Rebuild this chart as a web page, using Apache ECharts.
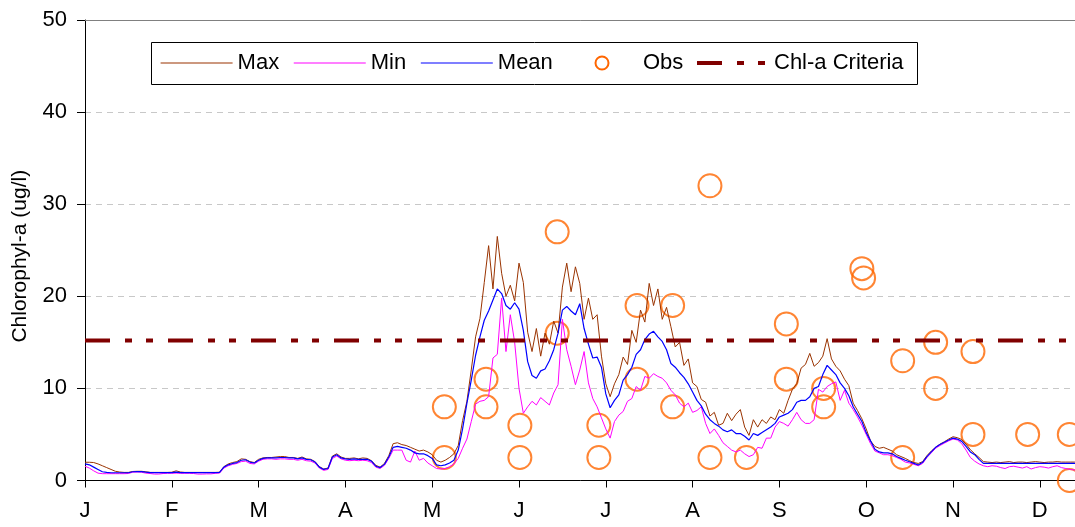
<!DOCTYPE html>
<html>
<head>
<meta charset="utf-8">
<script src="https://cdn.jsdelivr.net/npm/echarts@6/dist/echarts.min.js"></script>
<style>
html,body{margin:0;padding:0;background:#fff;}
#chart{width:1075px;height:527px;}
</style>
</head>
<body>
<div id="chart"></div>
<script>
// Month tick labels (axis ticks evenly spaced, one per month)
const monthLabels = ['J','F','M','A','M','J','J','A','S','O','N','D','J'];
// Time grid: sample k is at month k*0.05 from Jan 1
const timeStepMonths = 0.05;

const maxValues = [
 1.98,1.98,1.95,1.8,1.6,1.4,1.2,1.0,0.92,0.88,
 0.88,0.98,1.0,1.0,0.95,0.88,0.88,0.88,0.88,0.88,
 0.9,1.05,0.92,0.88,0.88,0.88,0.88,0.88,0.88,0.88,
 0.88,0.9,1.5,1.8,1.95,2.05,2.35,2.3,2.05,1.95,
 2.3,2.45,2.5,2.5,2.55,2.6,2.6,2.5,2.5,2.4,
 2.55,2.35,2.3,2.05,1.5,1.25,1.35,2.65,2.9,2.55,
 2.4,2.4,2.45,2.35,2.45,2.4,2.15,1.65,1.45,1.85,
 2.7,4.0,4.1,3.9,3.8,3.6,3.4,3.2,3.3,3.1,
 2.8,2.2,2.0,2.2,2.5,2.9,3.8,6.5,8.6,12.0,
 15.6,17.6,21.5,25.5,20.8,26.5,22.5,20.0,21.2,19.5,
 23.6,21.5,16.1,14.0,16.5,13.5,16.0,14.8,17.3,16.0,
 21.0,23.6,20.5,23.2,21.4,17.5,19.8,17.5,18.0,13.5,
 10.5,9.1,10.5,11.5,13.4,12.6,16.3,15.0,18.5,17.2,
 21.4,19.0,20.8,17.5,18.8,16.7,14.5,15.0,12.5,13.2,
 10.6,10.2,8.8,8.5,7.0,7.4,6.0,6.2,7.3,6.5,
 7.2,7.7,5.8,4.9,6.6,5.8,6.6,6.2,6.9,6.6,
 7.7,7.3,8.7,9.9,10.5,12.2,12.6,13.8,12.4,12.8,
 13.5,15.4,13.2,12.4,11.9,11.0,10.3,8.4,7.6,6.7,
 5.6,4.3,3.7,3.5,3.6,3.4,3.2,2.8,2.6,2.4,
 2.15,1.95,1.85,2.05,2.7,3.2,3.6,3.95,4.2,4.5,
 4.75,4.65,4.45,3.95,3.35,2.9,2.5,2.05,2.0,1.95,
 2.0,1.95,2.0,2.05,1.95,2.0,2.0,1.95,2.0,2.05,
 2.0,1.95,2.0,2.0,2.05,2.0,2.0,2.0,2.0,2.0
];

const minValues = [
 1.55,1.35,1.05,0.8,0.74,0.74,0.74,0.74,0.74,0.74,
 0.76,0.9,0.92,0.9,0.8,0.76,0.7,0.7,0.76,0.78,
 0.78,0.8,0.78,0.78,0.78,0.76,0.7,0.7,0.72,0.72,
 0.78,0.8,1.35,1.6,1.75,1.85,2.05,2.1,1.85,1.8,
 2.1,2.3,2.35,2.35,2.3,2.35,2.35,2.3,2.3,2.2,
 2.3,2.15,2.1,1.9,1.35,1.1,1.2,2.4,2.65,2.35,
 2.2,2.15,2.2,2.15,2.2,2.15,1.95,1.45,1.3,1.65,
 2.4,3.3,3.3,3.3,2.2,2.0,3.2,2.2,2.4,1.9,
 1.6,1.3,1.25,1.3,1.5,1.8,2.4,3.5,4.5,6.4,
 8.3,8.6,8.7,9.1,13.3,13.7,19.8,14.0,18.0,15.0,
 10.0,7.3,8.0,8.6,8.2,9.0,8.6,8.2,9.5,10.4,
 17.5,14.2,12.4,10.4,12.0,14.0,10.6,8.9,8.0,6.8,
 5.6,4.6,6.4,7.1,7.5,8.6,8.9,10.2,9.8,11.3,
 11.1,11.6,11.3,11.1,10.6,9.8,9.3,8.4,8.0,8.4,
 7.4,7.6,8.0,6.2,5.1,5.6,4.9,4.1,3.7,3.3,
 3.1,3.3,2.9,2.6,2.8,3.6,3.5,4.6,4.6,5.8,
 6.4,6.2,5.9,6.6,7.4,6.6,6.2,6.2,6.6,9.9,
 9.6,10.2,10.5,10.7,8.7,9.8,8.4,7.7,6.9,6.0,
 5.0,4.0,3.2,3.0,2.8,2.8,2.7,2.5,2.3,2.0,
 1.9,1.75,1.6,1.85,2.5,3.0,3.5,3.8,4.05,4.3,
 4.5,4.4,4.0,3.3,2.5,2.1,1.8,1.6,1.5,1.6,
 1.55,1.4,1.3,1.5,1.55,1.45,1.35,1.5,1.25,1.4,
 1.5,1.45,1.35,1.5,1.6,1.4,1.3,1.2,1.15,1.15
];

const meanValues = [
 1.8,1.7,1.45,1.2,0.95,0.88,0.84,0.84,0.84,0.84,
 0.84,0.95,0.97,0.97,0.9,0.85,0.85,0.85,0.85,0.85,
 0.85,0.9,0.85,0.85,0.85,0.85,0.85,0.85,0.85,0.85,
 0.85,0.87,1.45,1.7,1.85,1.95,2.2,2.25,2.0,1.9,
 2.2,2.4,2.45,2.45,2.45,2.5,2.5,2.45,2.45,2.35,
 2.45,2.3,2.25,2.0,1.45,1.2,1.3,2.55,2.8,2.45,
 2.35,2.3,2.35,2.3,2.3,2.3,2.1,1.55,1.4,1.75,
 2.55,3.6,3.7,3.6,3.5,3.3,3.0,2.9,2.9,2.7,
 2.4,1.7,1.6,1.7,1.9,2.2,3.3,5.6,8.4,10.9,
 13.6,15.6,17.4,18.4,19.6,20.8,20.3,19.0,18.6,19.3,
 18.6,16.3,12.9,11.4,11.1,11.9,12.1,13.0,14.2,16.0,
 18.5,18.9,18.4,18.0,19.2,16.5,14.8,13.3,13.4,12.3,
 9.4,7.9,8.7,9.3,10.9,11.5,12.3,13.7,14.2,15.3,
 15.9,16.2,15.6,15.1,14.2,12.7,12.3,11.7,11.2,10.5,
 9.6,8.7,8.1,7.2,6.6,6.2,5.9,5.5,5.3,5.5,
 5.1,5.1,4.8,4.4,5.1,4.9,5.2,5.5,5.8,6.2,
 6.9,7.1,7.3,7.7,8.5,8.7,8.7,9.1,10.0,10.2,
 11.5,12.5,12.0,11.5,10.6,10.0,9.2,8.0,7.2,6.4,
 5.2,4.3,3.4,3.1,3.0,3.0,2.9,2.6,2.4,2.2,
 2.04,1.86,1.68,1.97,2.6,3.1,3.6,3.9,4.15,4.4,
 4.6,4.5,4.25,3.7,3.1,2.8,2.3,1.86,1.85,1.85,
 1.85,1.85,1.85,1.85,1.85,1.85,1.85,1.85,1.85,1.85,
 1.85,1.85,1.85,1.85,1.85,1.85,1.85,1.85,1.85,1.85
];

// Observations (month position, value)
const obsMonths = [4.14,4.14,4.62,4.62,5.01,5.01,5.44,5.44,5.92,5.92,6.36,6.36,6.77,6.77,7.20,7.20,7.62,8.08,8.08,8.51,8.51,8.95,8.97,9.42,9.42,9.80,9.80,10.23,10.23,10.86,11.34,11.34];
const obsValues = [8,2.5,11,8,6,2.5,27,16,6,2.5,19,11,19,8,32,2.5,2.5,17,11,10,8,23,22,13,2.5,15,10,14,5,5,5,0];

// Chl-a criteria
const criteriaMonths = [0, 12];
const criteriaValues = [15.2, 15.2];

const FONT = "'Liberation Sans', Arial, sans-serif";
const pairs = vals => vals.map((v, k) => [k * timeStepMonths, v]);

const legendBase = {
  orient: 'horizontal', top: 52, padding: 0,
  itemWidth: 72, itemHeight: 13, itemGap: 14,
  textStyle: {fontSize: 22, color: '#000', fontFamily: FONT},
  itemStyle: {opacity: 0}
};

const chart = echarts.init(document.getElementById('chart'), null, {renderer: 'canvas'});
chart.setOption({
  animation: false,
  backgroundColor: '#ffffff',
  textStyle: {fontFamily: FONT},
  grid: {left: 85, top: 20, width: 1041.6, bottom: 46.5, containLabel: false, outerBoundsMode: 'none'},
  graphic: [{
    type: 'rect', z: 1,
    shape: {x: 151.5, y: 42.5, width: 766, height: 42},
    style: {fill: '#fff', stroke: '#000', lineWidth: 1}
  }],
  legend: [
    Object.assign({}, legendBase, {left: 160, lineStyle: {width: 1.2}, data: ['Max', 'Min', 'Mean']}),
    Object.assign({}, legendBase, {left: 594.5, data: [{name: 'Obs', icon: 'circle',
      itemStyle: {opacity: 1, color: 'rgba(255,255,255,0)', borderColor: '#FF6600', borderWidth: 2}}]}),
    Object.assign({}, legendBase, {left: 695, lineStyle: {width: 4}, data: ['Chl-a Criteria']})
  ],
  xAxis: [{
    type: 'value', min: 0, max: 12, interval: 1,
    axisLine: {show: true, lineStyle: {color: '#000', width: 1}},
    axisTick: {show: true, length: 7, lineStyle: {color: '#000'}},
    axisLabel: {fontSize: 22, color: '#000', margin: 19, fontFamily: FONT,
      formatter: v => monthLabels[Math.round(v)] || ''},
    splitLine: {show: false}
  }, {
    type: 'value', min: 0, max: 12, position: 'top',
    axisLine: {show: true, lineStyle: {color: '#808080', width: 1}},
    axisTick: {show: false}, axisLabel: {show: false}, splitLine: {show: false}
  }],
  yAxis: {
    type: 'value', min: 0, max: 50, interval: 10,
    name: 'Chlorophyl-a (ug/l)', nameLocation: 'middle', nameGap: 54,
    nameTextStyle: {fontSize: 21, color: '#000', fontFamily: FONT, padding: [0, 12, 0, 0]},
    axisLine: {show: true, lineStyle: {color: '#000', width: 1}},
    axisTick: {show: true, length: 8, lineStyle: {color: '#000'}},
    axisLabel: {fontSize: 22, color: '#000', margin: 18, fontFamily: FONT},
    splitLine: {show: true, lineStyle: {color: '#c8c8c8', type: [6, 5], width: 1}}
  },
  series: [
    {name: 'Max', type: 'line', data: pairs(maxValues), symbol: 'none', showSymbol: false,
     lineStyle: {color: '#993300', width: 1}, itemStyle: {color: '#993300'}},
    {name: 'Min', type: 'line', data: pairs(minValues), symbol: 'none', showSymbol: false,
     lineStyle: {color: '#FF00FF', width: 1}, itemStyle: {color: '#FF00FF'}},
    {name: 'Mean', type: 'line', data: pairs(meanValues), symbol: 'none', showSymbol: false,
     lineStyle: {color: '#0000FF', width: 1.2}, itemStyle: {color: '#0000FF'}},
    {name: 'Obs', type: 'scatter', data: obsMonths.map((m, k) => [m, obsValues[k]]),
     symbol: 'circle', symbolSize: 23, clip: false,
     itemStyle: {color: 'rgba(255,255,255,0)', borderColor: '#FF6600', borderWidth: 2}},
    {name: 'Chl-a Criteria', type: 'line', data: criteriaMonths.map((m, k) => [m, criteriaValues[k]]),
     symbol: 'none', showSymbol: false,
     lineStyle: {color: '#800000', width: 4, type: [25, 15, 7, 14, 7, 15], cap: 'butt'},
     itemStyle: {color: '#800000'}}
  ]
});
</script>
</body>
</html>
